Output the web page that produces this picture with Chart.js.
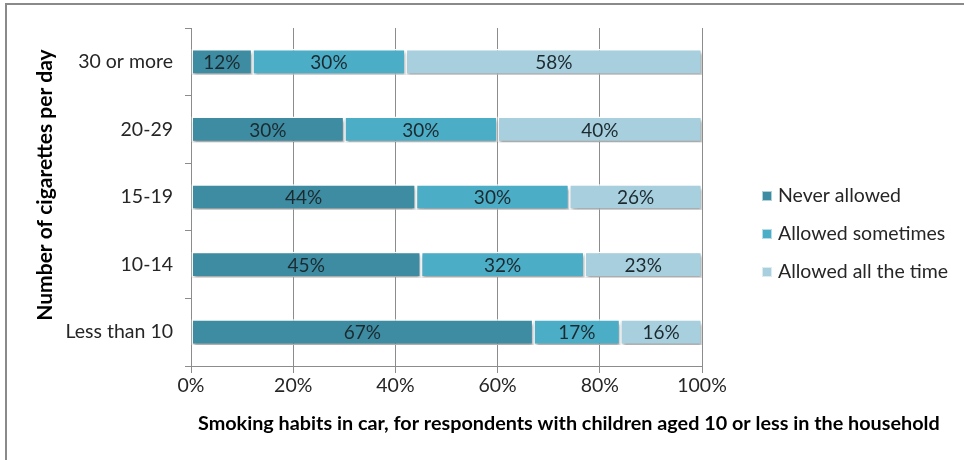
<!DOCTYPE html>
<html>
<head>
<meta charset="utf-8">
<script src="https://cdn.jsdelivr.net/npm/chart.js@4/dist/chart.umd.min.js"></script>
<style>
  html, body { margin: 0; padding: 0; background: #fff; }
  #wrap { width: 964px; height: 460px; position: relative; }
</style>
</head>
<body>
<div id="wrap"><canvas id="c" width="964" height="460"></canvas></div>
<script>
// Cigarettes smoked per day (top to bottom)
const categories = ['30 or more', '20-29', '15-19', '10-14', 'Less than 10'];
// Share of respondents by rule about smoking in the car (%)
const neverAllowed     = [12, 30, 44, 45, 67];
const allowedSometimes = [30, 30, 30, 32, 17];
const allowedAllTime   = [58, 40, 26, 23, 16];
const seriesNames = ['Never allowed', 'Allowed sometimes', 'Allowed all the time'];
const xTicks = [0, 20, 40, 60, 80, 100];

const FONT = 'Lato, "Open Sans", "Liberation Sans", sans-serif';
const TEXT = '#262626';
const GRID = '#8c8c8c';

// Frame lines along the top and left edge of the figure
const framePlugin = {
  id: 'frame',
  beforeDraw(chart) {
    const ctx = chart.ctx;
    ctx.save();
    ctx.fillStyle = '#fff';
    ctx.fillRect(0, 0, chart.width, chart.height);
    ctx.fillStyle = '#8a8a8a';
    ctx.fillRect(5, 3, chart.width - 5, 2);
    ctx.fillRect(5, 3, 2, chart.height - 3);
    ctx.restore();
  }
};

// Soft drop shadow under the bar segments
const shadowPlugin = {
  id: 'barShadow',
  beforeDatasetsDraw(chart) {
    const ctx = chart.ctx;
    ctx.save();
    ctx.shadowColor = 'rgba(0,0,0,0.35)';
    ctx.shadowBlur = 3;
    ctx.shadowOffsetX = 1;
    ctx.shadowOffsetY = 3;
  },
  afterDatasetsDraw(chart) {
    chart.ctx.restore();
  }
};

// Percentage labels centred in each segment
const valueLabels = {
  id: 'valueLabels',
  afterDatasetsDraw(chart) {
    const ctx = chart.ctx;
    ctx.save();
    ctx.font = '19px ' + FONT;
    ctx.fillStyle = '#1c2a30';
    ctx.textAlign = 'center';
    ctx.textBaseline = 'middle';
    chart.data.datasets.forEach((ds, i) => {
      const meta = chart.getDatasetMeta(i);
      meta.data.forEach((bar, j) => {
        const cx = (bar.x + bar.base) / 2;
        ctx.fillText(ds.data[j] + '%', cx, bar.y + 1);
      });
    });
    ctx.restore();
  }
};

// Axis titles
const axisTitles = {
  id: 'axisTitles',
  afterDraw(chart) {
    const ctx = chart.ctx;
    const a = chart.chartArea;
    ctx.save();
    ctx.fillStyle = '#000';
    ctx.font = 'bold 19.8px ' + FONT;
    ctx.textBaseline = 'middle';
    ctx.textAlign = 'left';
    ctx.fillText('Smoking habits in car, for respondents with children aged 10 or less in the household', a.left + 7, a.bottom + 58);
    ctx.translate(45, (a.top + a.bottom) / 2 - 12);
    ctx.rotate(-Math.PI / 2);
    ctx.textAlign = 'center';
    ctx.font = 'bold 21px ' + FONT;
    ctx.fillText('Number of cigarettes per day', 0, 0);
    ctx.restore();
  }
};

// Legend to the right of the plot
const sideLegend = {
  id: 'sideLegend',
  afterDraw(chart) {
    const ctx = chart.ctx;
    const a = chart.chartArea;
    const x0 = a.right + 60;
    const step = 38;
    const cy = chart.height / 2 + 4;
    ctx.save();
    ctx.font = '19.5px ' + FONT;
    ctx.textBaseline = 'middle';
    ctx.textAlign = 'left';
    chart.data.datasets.forEach((ds, i) => {
      const y = cy + (i - 1) * step;
      ctx.fillStyle = ds.backgroundColor;
      ctx.fillRect(x0, y - 5, 10, 10);
      ctx.strokeStyle = 'rgba(255,255,255,0.6)';
      ctx.lineWidth = 1;
      ctx.strokeRect(x0 + 0.5, y - 4.5, 9, 9);
      ctx.fillStyle = TEXT;
      ctx.fillText(ds.label, x0 + 16, y);
    });
    ctx.restore();
  }
};

const ds = (label, data, color) => ({
  label, data,
  backgroundColor: color,
  borderColor: '#ffffff',
  borderWidth: 1.5,
  borderSkipped: false,
  barPercentage: 0.76,
  categoryPercentage: 0.5
});

new Chart(document.getElementById('c'), {
  type: 'bar',
  data: {
    labels: categories,
    datasets: [
      ds(seriesNames[0], neverAllowed, '#3d8ca2'),
      ds(seriesNames[1], allowedSometimes, '#4badc6'),
      ds(seriesNames[2], allowedAllTime, '#a7cfdd')
    ]
  },
  options: {
    indexAxis: 'y',
    responsive: false,
    animation: false,
    devicePixelRatio: 1,
    layout: { padding: { top: 28, right: 262, left: 0, bottom: 0 } },
    plugins: {
      legend: { display: false },
      tooltip: { enabled: false }
    },
    scales: {
      x: {
        stacked: true,
        min: 0, max: 100,
        afterBuildTicks(scale) { scale.ticks = xTicks.map(v => ({ value: v })); },
        afterFit(scale) { scale.height = 94; },
        border: { display: true, color: GRID, width: 1 },
        grid: { color: GRID, lineWidth: 1, tickLength: 7, drawTicks: true },
        ticks: {
          color: TEXT,
          font: { family: FONT, size: 19.5 },
          padding: 1,
          callback: v => v + '%'
        }
      },
      y: {
        stacked: true,
        afterFit(scale) { scale.width = 191; },
        border: { display: true, color: GRID, width: 1 },
        grid: { offset: true, drawOnChartArea: false, color: GRID, tickLength: 6 },
        ticks: {
          color: TEXT,
          font: { family: FONT, size: 19.5 },
          padding: 12
        }
      }
    }
  },
  plugins: [framePlugin, shadowPlugin, valueLabels, axisTitles, sideLegend]
});
</script>
</body>
</html>
